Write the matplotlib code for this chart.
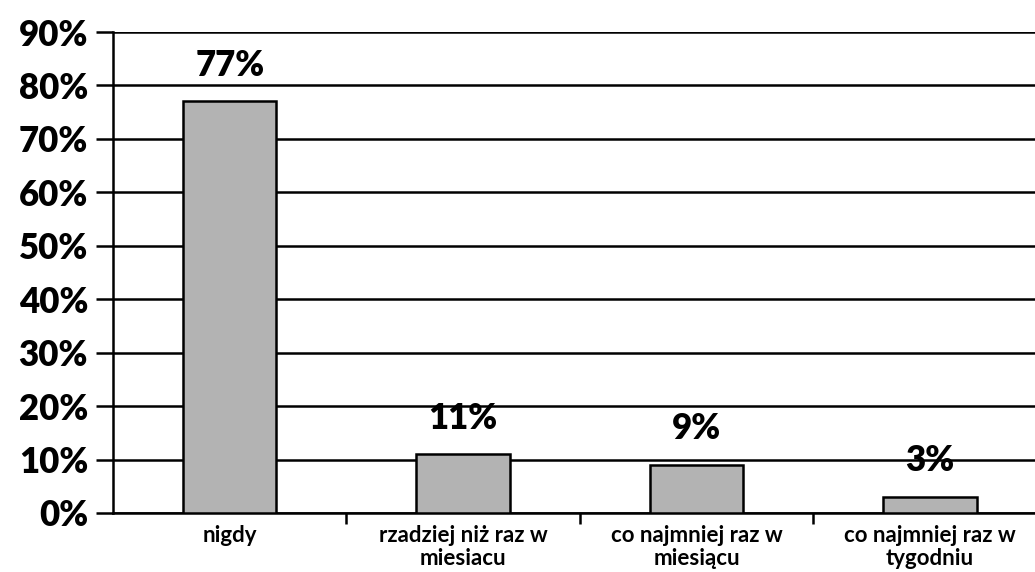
import matplotlib.pyplot as plt
from matplotlib.ticker import FixedLocator

categories = ['nigdy', 'rzadziej niż raz w\nmiesiacu', 'co najmniej raz w\nmiesiącu', 'co najmniej raz w\ntygodniu']
values = [77, 11, 9, 3]
value_labels = ['77%', '11%', '9%', '3%']
y_ticks = [0, 10, 20, 30, 40, 50, 60, 70, 80, 90]

plt.rcParams['font.family'] = ['Lato', 'DejaVu Sans']

fig = plt.figure(figsize=(10.35, 5.72), dpi=100)
W, H = 1035, 572
ax = fig.add_axes([113 / W, 1 - 513 / H, (1035 - 113) / W, (513 - 32) / H])

x = list(range(len(categories)))
ax.bar(x, values, width=0.4, color='#b3b3b3', edgecolor='black', linewidth=1.8, zorder=3)

for xi, v, lab in zip(x, values, value_labels):
    ax.annotate(lab, (xi, v), xytext=(0, 26), textcoords='offset points',
                ha='center', va='center', fontsize=25, fontweight='heavy', zorder=4)

ax.set_ylim(0, 90)
ax.set_xlim(-0.5, 3.45)
ax.set_yticks(y_ticks)
ax.set_yticklabels([f'{t}%' for t in y_ticks], fontsize=25, fontweight='heavy')
ax.yaxis.grid(True, color='black', linewidth=1.8, zorder=0)
ax.tick_params(axis='y', length=12, width=1.8, direction='out', pad=6)

ax.set_xticks(x)
ax.set_xticklabels(categories, fontsize=16, fontweight='bold', linespacing=1.1)
ax.tick_params(axis='x', length=0, pad=9)
ax.xaxis.set_minor_locator(FixedLocator([0.5, 1.5, 2.5]))
ax.tick_params(axis='x', which='minor', length=8, width=1.8, direction='out')

for s in ['top', 'right']:
    ax.spines[s].set_visible(False)
ax.spines['left'].set_linewidth(1.8)
ax.spines['bottom'].set_linewidth(1.8)

fig.savefig('out.png', dpi=100)
